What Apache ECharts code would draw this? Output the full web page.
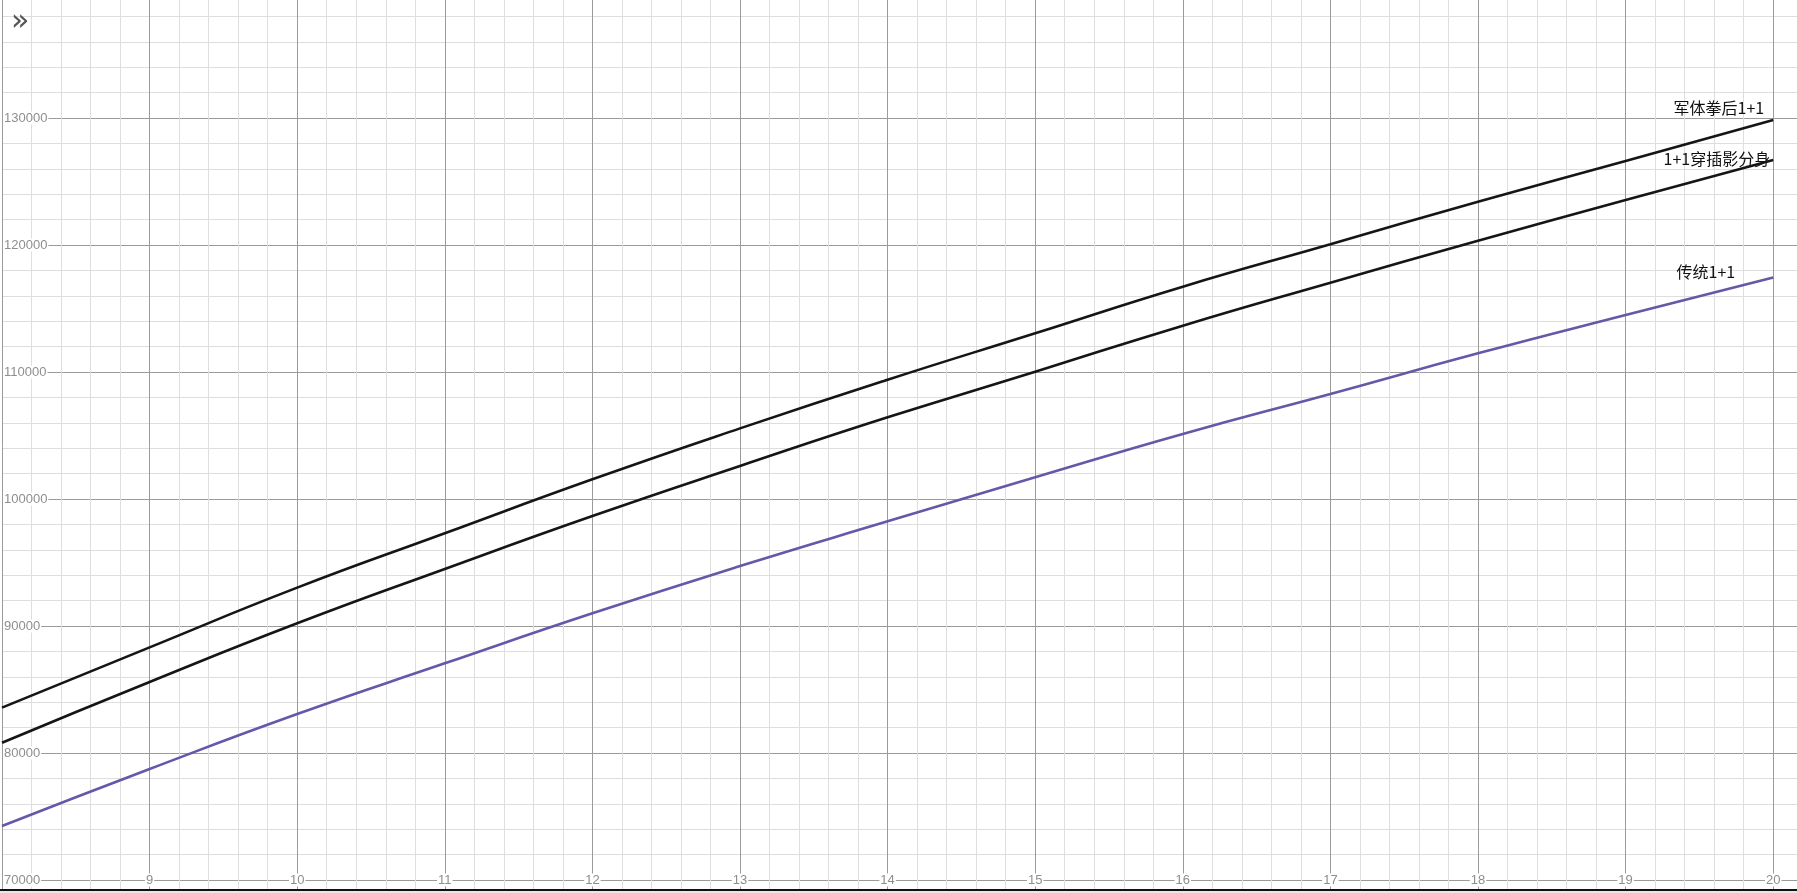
<!DOCTYPE html>
<html>
<head>
<meta charset="utf-8">
<script src="https://cdn.jsdelivr.net/npm/echarts@6/dist/echarts.min.js"></script>
<style>
html,body{margin:0;padding:0;background:#fff;}
#main{width:1797px;height:893px;}
</style>
</head>
<body>
<div id="main"></div>
<script>
// ---- data ----
const xValues = [8, 9, 10, 11, 12, 13, 14, 15, 16, 17, 18, 19, 20];
const seriesNames = ['军体拳后1+1', '1+1穿插影分身', '传统1+1'];
const junTiQuan = [83570, 88320, 93020, 97300, 101550, 105560, 109390, 113050, 116720, 120060, 123410, 126610, 129840];
const chuanCha  = [80810, 85590, 90210, 94490, 98660, 102600, 106430, 110020, 113650, 117030, 120340, 123540, 126690];
const chuanTong = [74250, 78740, 83070, 87060, 91000, 94720, 98240, 101710, 105120, 108270, 111470, 114490, 117450];

const chart = echarts.init(document.getElementById('main'));

function pairs(vals) { return xValues.map((x, i) => [x, vals[i]]); }

function makeSeries(name, vals, color, labelOffset) {
  const last = vals.length - 1;
  return {
    name: name,
    type: 'line',
    data: pairs(vals),
    showSymbol: false,
    smooth: 0.5,
    lineStyle: { color: color, width: 2.6 },
    itemStyle: { color: color },
    z: 5,
    markPoint: {
      symbol: 'circle',
      symbolSize: 0,
      silent: true,
      data: [{ coord: [xValues[last], vals[last]] }],
      label: {
        show: true,
        position: 'left',
        offset: labelOffset,
        formatter: name,
        color: '#111',
        fontSize: 16,
        fontFamily: '"Noto Sans CJK SC", sans-serif'
      }
    }
  };
}

const gridMajor = '#9b9b9b';
const gridMinor = '#dedede';
const labelColor = '#8e8e8e';

chart.setOption({
  animation: false,
  backgroundColor: '#ffffff',
  grid: {
    left: 2, right: -123.8, top: -9, bottom: -114,
    containLabel: false,
    outerBoundsMode: 'none'
  },
  xAxis: {
    type: 'value',
    min: 8,
    max: 21,
    interval: 1,
    axisLine: { show: false },
    axisTick: { show: false },
    axisLabel: {
      inside: true,
      margin: 127,
      verticalAlign: 'middle',
      color: labelColor,
      fontSize: 13,
      fontFamily: 'Arial, "Liberation Sans", sans-serif',
      backgroundColor: '#fff',
      padding: [0, 1],
      formatter: function (v) { return (v === 8 || v === 21) ? '' : String(v); }
    },
    splitLine: { show: true, lineStyle: { color: gridMajor, width: 1 } },
    minorTick: { show: false, splitNumber: 5 },
    minorSplitLine: { show: true, lineStyle: { color: gridMinor, width: 1 } }
  },
  yAxis: {
    type: 'value',
    min: 60000,
    max: 140000,
    interval: 10000,
    axisLine: { show: false },
    axisTick: { show: false },
    axisLabel: {
      inside: true,
      margin: 1,
      color: labelColor,
      fontSize: 13,
      fontFamily: 'Arial, "Liberation Sans", sans-serif',
      backgroundColor: '#fff',
      padding: [0, 1],
      formatter: function (v) { return String(v); }
    },
    splitLine: { show: true, lineStyle: { color: gridMajor, width: 1 } },
    minorTick: { show: false, splitNumber: 5 },
    minorSplitLine: { show: true, lineStyle: { color: gridMinor, width: 1 } }
  },
  series: [
    makeSeries(seriesNames[0], junTiQuan, '#151515', [-4, -12]),
    makeSeries(seriesNames[1], chuanCha, '#151515', [2, -1]),
    makeSeries(seriesNames[2], chuanTong, '#6657a9', [-33, -5])
  ],
  graphic: [
    {
      type: 'text', left: 11, top: 7, z: 100,
      style: { text: '»', fontSize: 30, fill: '#555', fontFamily: '"DejaVu Sans", sans-serif' }
    },
    {
      type: 'rect', left: 0, top: 889, z: 100,
      shape: { width: 1797, height: 2 },
      style: { fill: '#111' }
    },
    {
      type: 'rect', left: 0, top: 891, z: 100,
      shape: { width: 1797, height: 2 },
      style: { fill: '#efe4e4' }
    }
  ]
});
</script>
</body>
</html>
